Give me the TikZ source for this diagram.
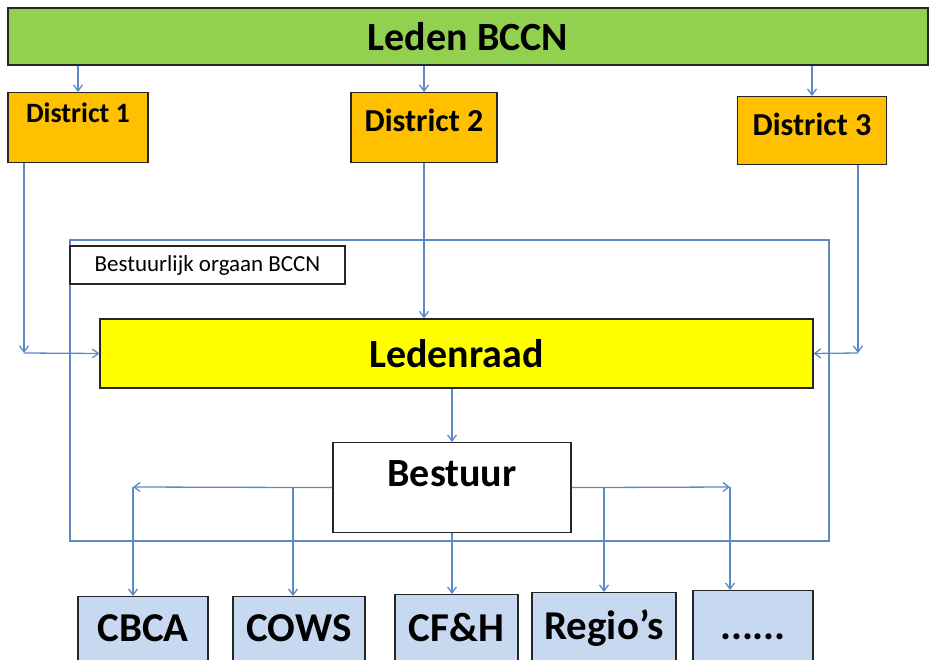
\documentclass[tikz,border=0pt]{standalone}
\usepackage{fontspec}
\setmainfont{Carlito}
\usetikzlibrary{arrows.meta}
\definecolor{ledengreen}{HTML}{92D050}
\definecolor{districtorange}{HTML}{FFC000}
\definecolor{raadyellow}{HTML}{FFFF00}
\definecolor{comblue}{HTML}{C6D9F1}
\definecolor{linkblue}{HTML}{5B8AC6}
\begin{document}
\begin{tikzpicture}[x=1pt,y=-1pt,
    box/.style={draw=black!85,line width=1.2pt,inner sep=0pt,font=\fontsize{40}{40}\selectfont\bfseries},
    distbox/.style={box,fill=districtorange,anchor=north,font=\fontsize{32}{32}\selectfont\bfseries},
    combox/.style={box,fill=comblue,anchor=north,text height=45pt,text depth=44pt,font=\fontsize{41}{41}\selectfont\bfseries},
    link/.style={draw=linkblue,line width=1.3pt},
    arr/.style={link,-{Straight Barb[length=6pt,width=9pt,line width=1.3pt]}}]
  \fill[white] (0,0) rectangle (930,660);
  \clip (0,0) rectangle (930,660);
  % leden en districten
  \node[box,fill=ledengreen,minimum width=920pt,minimum height=57pt] (leden) at (468,36.5) {Leden BCCN};
  \node[distbox,minimum width=140pt,text height=30pt,text depth=40pt,font=\fontsize{28}{28}\selectfont\bfseries] (d1) at (78,92) {District 1};
  \node[distbox,minimum width=146pt,text height=39pt,text depth=31pt] (d2) at (424,92) {District 2};
  \node[distbox,minimum width=149pt,text height=39pt,text depth=29pt] (d3) at (812,96) {District 3};
  \draw[arr] (leden.south -| d1.north) -- (d1.north);
  \draw[arr] (leden.south -| d2.north) -- (d2.north);
  \draw[arr] (leden.south -| d3.north) -- (d3.north);
  % bestuurlijk orgaan
  \draw[link] (70,240) rectangle (829,541);
  \node[box,fill=white,minimum width=275pt,minimum height=38pt,font=\fontsize{23}{23}\selectfont] (orgaan) at (207.5,265) {Bestuurlijk orgaan BCCN};
  \node[box,fill=raadyellow,minimum width=713pt,minimum height=69pt] (raad) at (456.5,353.5) {Ledenraad};
  \node[box,fill=white,minimum width=238pt,anchor=north,text height=44pt,text depth=46pt] (bestuur) at (452,442) {Bestuur};
  \coordinate (j1) at (24,353);
  \coordinate (j3) at (858,353);
  \draw[arr] (d1.south -| j1) -- (j1);
  \draw[arr] (j1) -- (raad.west);
  \draw[arr] (d3.south -| j3) -- (j3);
  \draw[arr] (j3) -- (raad.east);
  \draw[arr] (d2.south) -- (d2.south |- raad.north);
  \draw[arr] (raad.south -| bestuur.north) -- (bestuur.north);
  % commissies
  \node[combox,minimum width=130pt] (cbca) at (143,596) {CBCA};
  \node[combox,minimum width=132pt] (cows) at (299,596) {COWS};
  \node[combox,minimum width=123pt,text height=47pt] (cfh) at (456.5,594) {CF\&H};
  \node[combox,minimum width=144pt,text height=47pt] (regio) at (604,592) {Regio’s};
  \node[combox,minimum width=120pt,text height=49pt] (rest) at (753,590) {......};
  \coordinate (b1) at (133,487);
  \coordinate (b2) at (293,487);
  \coordinate (b4) at (604,487);
  \coordinate (b5) at (730,487);
  \draw[arr] (bestuur.west) -- (b1);
  \draw[arr] (b1) -- (b1 |- cbca.north);
  \draw[arr] (b2) -- (b2 |- cows.north);
  \draw[arr] (bestuur.south) -- (bestuur.south |- cfh.north);
  \draw[arr] (bestuur.east) -- (b5);
  \draw[arr] (b4) -- (regio.north);
  \draw[arr] (b5) -- (b5 |- rest.north);
\end{tikzpicture}
\end{document}
